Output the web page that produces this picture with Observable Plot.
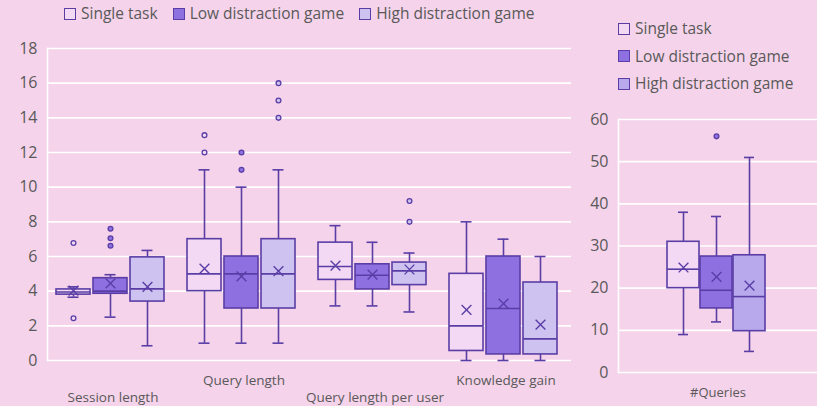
<!DOCTYPE html>
<html>
<head>
<meta charset="utf-8">
<script src="https://cdn.jsdelivr.net/npm/d3@7"></script>
<script src="https://cdn.jsdelivr.net/npm/@observablehq/plot@0.6"></script>
<style>
  html, body { margin: 0; padding: 0; background: #f5d3ea; }
  #wrap { position: relative; width: 817px; height: 406px; overflow: hidden; background: #f5d3ea; font-family: "Open Sans", sans-serif; color: #595959; }
  .panel { position: absolute; top: 0; }
  .legend { position: absolute; font-size: 15.5px; color: #595959; line-height: 1; }
  .legend .item { display: flex; align-items: center; white-space: nowrap; }
  .legend .sw { width: 12px; height: 12px; box-sizing: border-box; border: 1.6px solid #5a3ea6; margin-right: 5px; flex: none; }
  #legTop { left: 64px; top: 6px; display: flex; }
  #legTop .item { margin-right: 15px; }
  #legRight { left: 618px; top: 15px; }
  #legRight .item { height: 27.5px; }
</style>
</head>
<body>
<div id="wrap">
  <div id="left" class="panel" style="left:0"></div>
  <div id="right" class="panel" style="left:560px"></div>
  <div id="legTop" class="legend"></div>
  <div id="legRight" class="legend"></div>
</div>
<script>
// ---------- data ----------
const series = ["Single task", "Low distraction game", "High distraction game"];
const categories = ["Session length", "Query length", "Query length per user", "Knowledge gain"];
const yTicksLeft = [0, 2, 4, 6, 8, 10, 12, 14, 16, 18];

// rows: category, columns: series
const whiskerLow  = [[3.65, 2.5, 0.85], [1, 1, 1], [3.15, 3.15, 2.8], [0, 0, 0]];
const quartile1   = [[3.8, 3.85, 3.4], [4, 3, 3], [4.65, 4.1, 4.35], [0.55, 0.35, 0.35]];
const medians     = [[3.95, 4.0, 4.13], [5, 5, 5], [5.42, 4.92, 5.17], [2, 3, 1.25]];
const quartile3   = [[4.1, 4.75, 5.95], [7, 6, 7], [6.8, 5.55, 5.65], [5, 6, 4.5]];
const whiskerHigh = [[4.25, 4.95, 6.35], [11, 10, 11], [7.78, 6.82, 6.2], [8, 7, 6]];
const means       = [[4.03, 4.45, 4.25], [5.3, 4.85, 5.15], [5.48, 4.95, 5.25], [2.92, 3.28, 2.07]];
const outliers    = [[[6.78, 2.44], [6.62, 7.05, 7.6], []], [[12, 13], [11, 12], [14, 15, 16]], [[], [], [8, 9.2]], [[], [], []]];

const queryCategory = ["#Queries"];
const yTicksRight = [0, 10, 20, 30, 40, 50, 60];
const queryWhiskerLow  = [9, 12, 5];
const queryQuartile1   = [20, 15.2, 9.8];
const queryMedian      = [24.5, 19.5, 18];
const queryQuartile3   = [31, 27.5, 27.8];
const queryWhiskerHigh = [38, 37, 51];
const queryMean        = [24.9, 22.7, 20.6];
const queryOutliers    = [[], [56], []];

const fillsLeft  = ["#f3d9f3", "#8f70e1", "#cdc2f0"];
const fillsRight = ["#f3d9f3", "#8f70e1", "#b8a8ec"];
const ink = "#5a3ea6";
const textColor = "#595959";

// ---------- build tables ----------
function buildRows(cats, lo, q1, med, q3, hi, mean) {
  return cats.flatMap((c, i) => series.map((s, j) => ({
    category: c, series: s, lo: lo[i][j], q1: q1[i][j], med: med[i][j], q3: q3[i][j], hi: hi[i][j], mean: mean[i][j]
  })));
}
function buildOutliers(cats, out) {
  return cats.flatMap((c, i) => series.flatMap((s, j) => out[i][j].map(v => ({category: c, series: s, value: v}))));
}

const leftRows = buildRows(categories, whiskerLow, quartile1, medians, quartile3, whiskerHigh, means);
const leftOut = buildOutliers(categories, outliers);
const rightRows = buildRows(queryCategory, [queryWhiskerLow], [queryQuartile1], [queryMedian], [queryQuartile3], [queryWhiskerHigh], [queryMean]);
const rightOut = buildOutliers(queryCategory, [queryOutliers]);

function boxMarks(rows, outRows, capInset) {
  const common = {fx: "category", x: "series"};
  return [
    Plot.ruleX(rows, {...common, y1: "lo", y2: "hi", stroke: ink, strokeWidth: 1.6}),
    Plot.tickY(rows, {...common, y: "lo", stroke: ink, strokeWidth: 1.6, insetLeft: capInset, insetRight: capInset}),
    Plot.tickY(rows, {...common, y: "hi", stroke: ink, strokeWidth: 1.6, insetLeft: capInset, insetRight: capInset}),
    Plot.barY(rows, {...common, y1: "q1", y2: "q3", fill: "series", stroke: ink, strokeWidth: 1.6}),
    Plot.tickY(rows, {...common, y: "med", stroke: ink, strokeWidth: 1.6}),
    Plot.dot(rows, {...common, y: "mean", symbol: "times", r: 4.5, stroke: ink, strokeWidth: 1.4}),
    Plot.dot(outRows, {...common, y: "value", r: 2.4, fill: "series", stroke: ink, strokeWidth: 1.3})
  ];
}

const leftPlot = Plot.plot({
  width: 590, height: 406,
  marginLeft: 46, marginRight: 18, marginTop: 48, marginBottom: 46,
  style: {background: "transparent", fontFamily: "Open Sans", fontSize: "16px", color: textColor},
  fx: {domain: categories, padding: 0, label: null},
  x: {domain: series, paddingInner: 0.093, paddingOuter: 0.3, align: 0.38, axis: null},
  y: {domain: [0, 18], label: null},
  color: {domain: series, range: fillsLeft},
  marks: [
    Plot.gridY(yTicksLeft, {stroke: "white", strokeOpacity: 1, strokeWidth: 1.6}),
    Plot.frame({anchor: "left", stroke: "white", strokeWidth: 1.6, facetAnchor: "left"}),
    Plot.axisY({ticks: yTicksLeft, tickSize: 0, tickPadding: 10, label: null, fill: textColor}),
    Plot.axisFx({anchor: "bottom", ticks: [categories[1], categories[3]], tickSize: 0, tickPadding: 15, label: null, fontSize: 13.5, fill: textColor}),
    Plot.axisFx({anchor: "bottom", ticks: [categories[0], categories[2]], tickSize: 0, tickPadding: 32, label: null, fontSize: 13.5, fill: textColor}),
    ...boxMarks(leftRows, leftOut, 11.5)
  ]
});
document.getElementById("left").appendChild(leftPlot);

const rightPlot = Plot.plot({
  width: 257, height: 406,
  marginLeft: 58, marginRight: 0, marginTop: 119, marginBottom: 34,
  style: {background: "transparent", fontFamily: "Open Sans", fontSize: "16px", color: textColor},
  fx: {domain: queryCategory, padding: 0, label: null},
  x: {domain: series, paddingInner: 0.045, paddingOuter: 1.49, align: 0.483, axis: null},
  y: {domain: [0, 60], label: null},
  color: {domain: series, range: fillsRight},
  marks: [
    Plot.gridY(yTicksRight, {stroke: "white", strokeOpacity: 1, strokeWidth: 1.6}),
    Plot.frame({anchor: "left", stroke: "white", strokeWidth: 1.6, facetAnchor: "left"}),
    Plot.axisY({ticks: yTicksRight, tickSize: 0, tickPadding: 10, label: null, fill: textColor}),
    Plot.axisFx({anchor: "bottom", tickSize: 0, tickPadding: 15, label: null, fontSize: 13, fill: textColor}),
    ...boxMarks(rightRows, rightOut, 11)
  ]
});
document.getElementById("right").appendChild(rightPlot);

// ---------- legends ----------
function fillLegend(id, fills) {
  const el = document.getElementById(id);
  series.forEach((s, i) => {
    const item = document.createElement("div");
    item.className = "item";
    const sw = document.createElement("span");
    sw.className = "sw";
    sw.style.background = fills[i];
    const t = document.createElement("span");
    t.textContent = s;
    item.appendChild(sw); item.appendChild(t);
    el.appendChild(item);
  });
}
fillLegend("legTop", fillsLeft);
fillLegend("legRight", fillsRight);
</script>
</body>
</html>
